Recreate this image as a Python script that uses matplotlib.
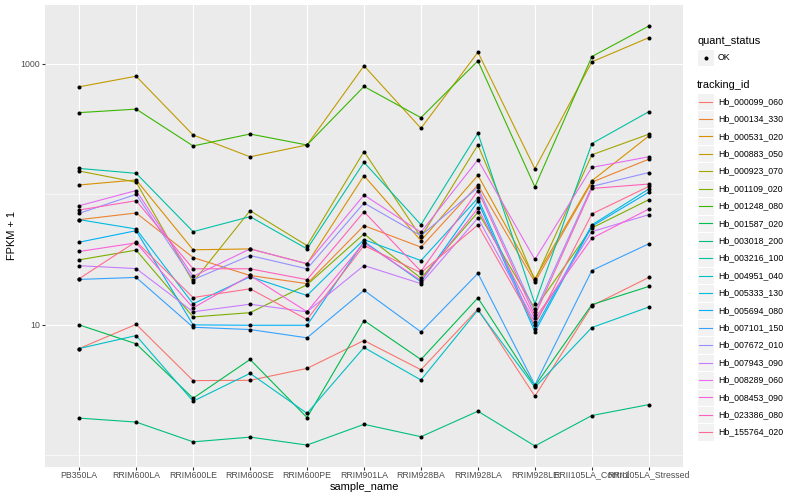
import matplotlib
matplotlib.use('Agg')
import matplotlib.pyplot as plt
import numpy as np
from matplotlib.lines import Line2D
from matplotlib.patches import Rectangle
from matplotlib.ticker import FixedLocator, NullFormatter, FuncFormatter

plt.rcParams['font.family'] = ['Liberation Sans', 'DejaVu Sans']

samples = ['PB350LA', 'RRIM600LA', 'RRIM600LE', 'RRIM600SE', 'RRIM600PE',
           'RRIM901LA', 'RRIM928BA', 'RRIM928LA', 'RRIM928LE',
           'RRII105LA_Control', 'RRII105LA_Stressed']

tracking_ids = ['Hb_000099_060', 'Hb_000134_330', 'Hb_000531_020', 'Hb_000883_050',
                'Hb_000923_070', 'Hb_001109_020', 'Hb_001248_080', 'Hb_001587_020',
                'Hb_003018_200', 'Hb_003216_100', 'Hb_004951_040', 'Hb_005333_130',
                'Hb_005694_080', 'Hb_007101_150', 'Hb_007672_010', 'Hb_007943_090',
                'Hb_008289_060', 'Hb_008453_090', 'Hb_023386_080', 'Hb_155764_020']

# ggplot hue palette, 20 levels
colors = ['#F8766D', '#EA8331', '#D89000', '#C09B00', '#A3A500', '#7CAE00',
          '#39B600', '#00BB4E', '#00BF7D', '#00C1A3', '#00BFC4', '#00BAE0',
          '#00B0F6', '#35A2FF', '#9590FF', '#C77CFF', '#E76BF3', '#FA62DB',
          '#FF62BC', '#FF6C91']

# FPKM + 1 per sample
hb_000099_060 = [6.59, 10.1, 3.74, 3.76, 4.64, 7.59, 4.53, 13.2, 2.84, 14.0, 23.1]
hb_000134_330 = [64.0, 72.0, 32.8, 23.9, 20.7, 57.6, 39.4, 118, 21.3, 124, 186]
hb_000531_020 = [118, 129, 37.6, 38.2, 29.4, 139, 44.2, 140, 22.6, 127, 280]
hb_000883_050 = [667, 804, 285, 194, 239, 966, 321, 1227, 157, 1036, 1588]
hb_000923_070 = [151, 124, 21.3, 75.0, 40.5, 213, 47.0, 239, 21.9, 201, 289]
hb_001109_020 = [31.5, 37.4, 11.5, 12.4, 20.3, 49.8, 22.8, 72.9, 13.3, 55.3, 91.0]
hb_001248_080 = [423, 450, 235, 290, 239, 671, 387, 1054, 114, 1137, 1950]
hb_001587_020 = [10.0, 7.16, 2.74, 5.43, 1.95, 10.8, 5.43, 16.1, 3.40, 14.3, 19.7]
hb_003018_200 = [1.93, 1.80, 1.27, 1.38, 1.20, 1.73, 1.39, 2.18, 1.18, 2.02, 2.45]
hb_003216_100 = [158, 145, 51.8, 67.5, 38.2, 176, 58.6, 294, 14.5, 245, 430]
hb_004951_040 = [6.59, 8.28, 2.60, 4.25, 2.10, 6.71, 3.78, 13.0, 3.32, 9.54, 13.7]
hb_005333_130 = [64.0, 54.3, 14.5, 23.4, 16.8, 45.0, 31.1, 93.7, 9.37, 58.3, 110]
hb_005694_080 = [43.0, 52.7, 10.0, 9.93, 9.93, 43.5, 21.4, 88.4, 8.84, 57.0, 104]
hb_007101_150 = [22.3, 23.1, 9.59, 9.21, 7.96, 18.4, 8.84, 24.8, 3.46, 26.1, 41.8]
hb_007672_010 = [71.6, 100, 22.2, 34.0, 26.9, 85.8, 48.3, 113, 12.6, 115, 147]
hb_007943_090 = [28.4, 27.0, 12.6, 14.4, 12.6, 28.5, 20.7, 65.9, 10.5, 51.8, 69.9]
hb_008289_060 = [81.8, 107, 23.5, 38.2, 29.4, 98.8, 51.3, 184, 31.7, 161, 194]
hb_008453_090 = [36.5, 42.5, 13.5, 23.9, 12.6, 42.5, 21.9, 78.2, 11.2, 46.1, 77.2]
hb_023386_080 = [75.9, 89.4, 26.9, 26.9, 22.2, 73.6, 25.7, 107, 11.8, 111, 120]
hb_155764_020 = [22.6, 43.5, 16.2, 18.9, 11.0, 40.5, 25.1, 58.3, 10.0, 70.8, 115]

series = [hb_000099_060, hb_000134_330, hb_000531_020, hb_000883_050,
          hb_000923_070, hb_001109_020, hb_001248_080, hb_001587_020,
          hb_003018_200, hb_003216_100, hb_004951_040, hb_005333_130,
          hb_005694_080, hb_007101_150, hb_007672_010, hb_007943_090,
          hb_008289_060, hb_008453_090, hb_023386_080, hb_155764_020]


def fx(px):
    return px / 800.0


def fy(py):
    return 1 - py / 500.0


fig = plt.figure(figsize=(8, 5), dpi=100)
ax = fig.add_axes([fx(45), fy(467), fx(683 - 45), (467 - 5) / 500.0])
ax.set_facecolor('#EBEBEB')

x = np.arange(len(samples))
for vals, col in zip(series, colors):
    ax.plot(x, vals, color=col, lw=0.8, zorder=2)
for vals in series:
    ax.plot(x, vals, 'o', color='black', ms=2.9, mec='none', zorder=3)

ax.set_yscale('log')
ax.set_xlim(-0.6, len(samples) - 0.4)
ax.set_ylim(10 ** -0.089, 10 ** 3.451)
ax.yaxis.set_major_locator(FixedLocator([10, 1000]))
ax.yaxis.set_minor_locator(FixedLocator([1, 100]))
ax.yaxis.set_major_formatter(FuncFormatter(lambda v, p: '%g' % v))
ax.yaxis.set_minor_formatter(NullFormatter())
ax.set_xticks(x, samples)

ax.grid(which='major', color='white', lw=0.8)
ax.grid(which='minor', axis='y', color='white', lw=0.4)
ax.set_axisbelow(True)
for s in ax.spines.values():
    s.set_visible(False)
ax.tick_params(which='major', length=2.0, width=0.8, color='#333333',
               labelsize=6.3, labelcolor='#4D4D4D', pad=1.5)
ax.tick_params(axis='x', pad=0.6)
ax.tick_params(which='minor', length=0)

fig.text(fx(364), fy(487), 'sample_name', ha='center', va='center', fontsize=7.9)
fig.text(fx(12), fy(235), 'FPKM + 1', ha='center', va='center',
         rotation=90, fontsize=7.9)

# legends drawn by hand, ggplot style
fig.text(fx(697), fy(41), 'quant_status', ha='left', va='center', fontsize=7.9)
fig.add_artist(Rectangle((fx(697), fy(66)), fx(17), 17 / 500.0,
                         transform=fig.transFigure, facecolor='#F2F2F2',
                         edgecolor='white', lw=0.8))
fig.add_artist(Line2D([fx(705.5)], [fy(57.5)], marker='o', color='black',
                      ms=2.9, mec='none', transform=fig.transFigure))
fig.text(fx(718), fy(57.5), 'OK', ha='left', va='center', fontsize=6.3)

fig.text(fx(697), fy(85), 'tracking_id', ha='left', va='center', fontsize=7.9)
step = 17.4
for i, (tid, col) in enumerate(zip(tracking_ids, colors)):
    cy = 101.5 + i * step
    fig.add_artist(Rectangle((fx(697), fy(cy + step / 2)), fx(17), step / 500.0,
                             transform=fig.transFigure, facecolor='#F2F2F2',
                             edgecolor='white', lw=0.8))
    fig.add_artist(Line2D([fx(699), fx(712)], [fy(cy), fy(cy)], color=col,
                          lw=0.8, transform=fig.transFigure))
    fig.text(fx(718), fy(cy), tid, ha='left', va='center', fontsize=6.3)

fig.savefig('out.png', dpi=100)
